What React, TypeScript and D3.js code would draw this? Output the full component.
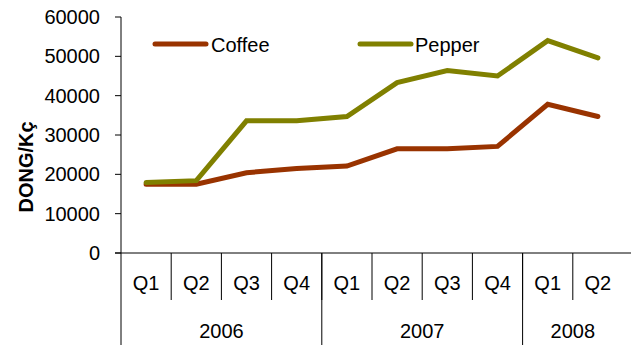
import React from "react";
import * as d3 from "d3";

const quarters = ["Q1", "Q2", "Q3", "Q4", "Q1", "Q2", "Q3", "Q4", "Q1", "Q2"];
const years = ["2006", "2007", "2008"];
const yearSpans = [4, 4, 2];
const coffee = [17500, 17500, 20400, 21500, 22100, 26500, 26500, 27100, 37800, 34700];
const pepper = [17900, 18400, 33600, 33600, 34700, 43300, 46400, 45000, 54000, 49600];
const yTicks = [0, 10000, 20000, 30000, 40000, 50000, 60000];

const W = 631;
const H = 345;
const FONT = "'Liberation Sans', Arial, sans-serif";

export default function App() {
  const x0 = 121;
  const x1 = 623;
  const yTop = 17;
  const yBot = 253;
  const idx = quarters.map((_, i) => i);
  const x = d3.scaleBand<number>().domain(idx).range([x0, x1]);
  const y = d3.scaleLinear().domain([0, 60000]).range([yBot, yTop]);
  const line = d3
    .line<number>()
    .x((_, i) => (x(i) as number) + x.bandwidth() / 2)
    .y((d) => y(d));

  const series = [
    { name: "Coffee", values: coffee, color: "#993300", lx: 155, tx: 211 },
    { name: "Pepper", values: pepper, color: "#808000", lx: 360, tx: 415 },
  ];

  let cum = 0;
  const yearBounds = yearSpans.map((s) => {
    const start = cum;
    cum += s;
    return { start, end: cum };
  });

  return (
    <svg
      width={W}
      height={H}
      style={{ position: "absolute", left: 0, top: 0, background: "#fff" }}
      fontFamily={FONT}
    >
      {/* y axis */}
      <line x1={x0} x2={x0} y1={yTop} y2={H} stroke="#000" strokeWidth={1} />
      {yTicks.map((t) => (
        <g key={t}>
          <line x1={x0 - 6} x2={x0} y1={y(t)} y2={y(t)} stroke="#000" />
          <text x={100} y={y(t)} dy="0.35em" textAnchor="end" fontSize={20} fill="#000">
            {t}
          </text>
        </g>
      ))}
      <text
        transform={`translate(33,167) rotate(-90)`}
        textAnchor="middle"
        fontSize={20}
        fontWeight="bold"
        fill="#000"
      >
        DONG/Kç
      </text>

      {/* x axis */}
      <line x1={x0 - 6} x2={W} y1={yBot} y2={yBot} stroke="#000" />
      {quarters.map((q, i) => (
        <g key={i}>
          {i > 0 && (
            <line
              x1={x(i) as number}
              x2={x(i) as number}
              y1={yBot}
              y2={300}
              stroke="#000"
            />
          )}
          <text
            x={(x(i) as number) + x.bandwidth() / 2}
            y={283}
            dy="0.35em"
            textAnchor="middle"
            fontSize={20}
            fill="#000"
          >
            {q}
          </text>
        </g>
      ))}
      {years.map((yr, j) => {
        const b = yearBounds[j];
        const xs = x(b.start) as number;
        const xe = b.end < quarters.length ? (x(b.end) as number) : x1;
        return (
          <g key={yr}>
            {j > 0 && <line x1={xs} x2={xs} y1={yBot} y2={H} stroke="#000" />}
            <text
              x={(xs + xe) / 2}
              y={331}
              dy="0.35em"
              textAnchor="middle"
              fontSize={20}
              fill="#000"
            >
              {yr}
            </text>
          </g>
        );
      })}

      {/* lines */}
      {series.map((s) => (
        <path
          key={s.name}
          d={line(s.values) || ""}
          fill="none"
          stroke={s.color}
          strokeWidth={5}
          strokeLinejoin="miter"
          strokeLinecap="round"
        />
      ))}

      {/* legend */}
      {series.map((s) => (
        <g key={s.name + "-leg"}>
          <line
            x1={s.lx}
            x2={s.lx + 51}
            y1={44}
            y2={44}
            stroke={s.color}
            strokeWidth={5}
            strokeLinecap="round"
          />
          <text x={s.tx} y={45} dy="0.35em" fontSize={20} fill="#000">
            {s.name}
          </text>
        </g>
      ))}
    </svg>
  );
}
